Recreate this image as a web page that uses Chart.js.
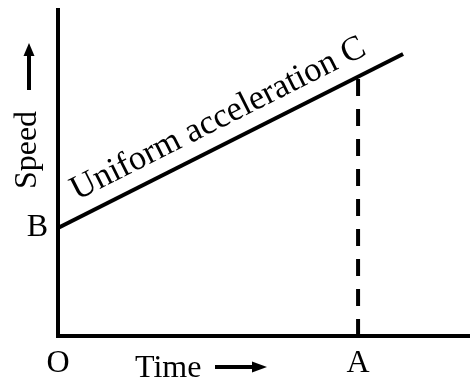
<!DOCTYPE html>
<html>
<head>
<meta charset="utf-8">
<script src="https://cdn.jsdelivr.net/npm/chart.js@4/dist/chart.umd.min.js"></script>
<style>
html,body{margin:0;padding:0;background:#fff;}
canvas{display:block;}
</style>
</head>
<body>
<canvas id="c" width="470" height="379"></canvas>
<script>
// Data
const timeLine = [0, 11.5];          // time values of the speed line ends
const speedLine = [3.6, 9.4];        // speed values of the speed line ends
const pointA = 10;                   // time of A
const pointC = 8.64;                 // speed at C
const xTickValues = [0, 10];
const xTickLabels = ['O', 'A'];
const yTickValues = [3.6];
const yTickLabels = ['B'];
const lineLabel = 'Uniform acceleration C';
const xTitle = 'Time';
const yTitle = 'Speed';

const FONT = '"Liberation Serif", "Times New Roman", serif';

const labelsPlugin = {
  id: 'labels',
  afterDatasetsDraw(chart) {
    const ctx = chart.ctx;
    const xs = chart.scales.x, ys = chart.scales.y;
    ctx.save();
    ctx.fillStyle = '#000';
    ctx.strokeStyle = '#000';
    // rotated label along line
    const x0 = xs.getPixelForValue(timeLine[0]), y0 = ys.getPixelForValue(speedLine[0]);
    const x1 = xs.getPixelForValue(timeLine[1]), y1 = ys.getPixelForValue(speedLine[1]);
    const ang = Math.atan2(y1 - y0, x1 - x0);
    const t = 0.076;
    const px = x0 + (x1 - x0) * t, py = y0 + (y1 - y0) * t;
    const off = 16;
    const sx = px + Math.sin(ang) * off, sy = py - Math.cos(ang) * off;
    ctx.save();
    ctx.translate(sx, sy);
    ctx.rotate(ang);
    ctx.font = '34.5px ' + FONT;
    ctx.textAlign = 'left';
    ctx.textBaseline = 'alphabetic';
    ctx.fillText(lineLabel, 0, 0);
    ctx.restore();

    // y title rotated
    ctx.save();
    ctx.translate(36, 150);
    ctx.rotate(-Math.PI / 2);
    ctx.font = '32px ' + FONT;
    ctx.textAlign = 'center';
    ctx.textBaseline = 'alphabetic';
    ctx.fillText(yTitle, 0, 0);
    ctx.restore();
    // y arrow
    ctx.lineWidth = 4;
    ctx.beginPath();
    ctx.moveTo(29, 90); ctx.lineTo(29, 52); ctx.stroke();
    ctx.beginPath();
    ctx.moveTo(29, 43); ctx.lineTo(23.5, 56); ctx.lineTo(34.5, 56); ctx.closePath(); ctx.fill();

    // x title
    ctx.font = '32px ' + FONT;
    ctx.textAlign = 'left';
    ctx.textBaseline = 'alphabetic';
    ctx.fillText(xTitle, 135, 377);
    ctx.beginPath();
    ctx.moveTo(215, 367); ctx.lineTo(256, 367); ctx.stroke();
    ctx.beginPath();
    ctx.moveTo(267, 367); ctx.lineTo(252, 361.5); ctx.lineTo(252, 372.5); ctx.closePath(); ctx.fill();
    ctx.restore();
  }
};

new Chart(document.getElementById('c'), {
  type: 'scatter',
  data: {
    datasets: [
      {
        data: timeLine.map((x, i) => ({x, y: speedLine[i]})),
        showLine: true,
        borderColor: '#000',
        borderWidth: 4,
        pointRadius: 0,
        borderCapStyle: 'butt'
      },
      {
        data: [{x: pointA, y: 0}, {x: pointA, y: pointC}],
        showLine: true,
        borderColor: '#000',
        borderWidth: 4,
        borderDash: [17, 13],
        pointRadius: 0
      }
    ]
  },
  options: {
    responsive: false,
    devicePixelRatio: 1,
    animation: false,
    layout: {padding: {top: 10, right: 0, left: 0, bottom: 0}},
    plugins: {legend: {display: false}, tooltip: {enabled: false}},
    scales: {
      x: {
        type: 'linear', min: 0, max: 13.73,
        grid: {display: false, drawTicks: false},
        border: {display: true, color: '#000', width: 4},
        afterBuildTicks: s => { s.ticks = xTickValues.map(v => ({value: v})); },
        afterFit: s => { s.height = 43; s.paddingLeft = 0; s.paddingRight = 0; },
        ticks: {
          padding: 8,
          color: '#000',
          font: {family: FONT, size: 32},
          maxRotation: 0,
          callback: v => xTickLabels[xTickValues.indexOf(v)]
        }
      },
      y: {
        type: 'linear', min: 0, max: 10.87,
        grid: {display: false, drawTicks: false},
        border: {display: true, color: '#000', width: 4},
        afterBuildTicks: s => { s.ticks = yTickValues.map(v => ({value: v})); },
        afterFit: s => { s.width = 58; s.paddingTop = 0; s.paddingBottom = 0; },
        ticks: {
          padding: 10,
          color: '#000',
          font: {family: FONT, size: 32},
          callback: v => yTickLabels[yTickValues.indexOf(v)]
        }
      }
    }
  },
  plugins: [labelsPlugin]
});
</script>
</body>
</html>
